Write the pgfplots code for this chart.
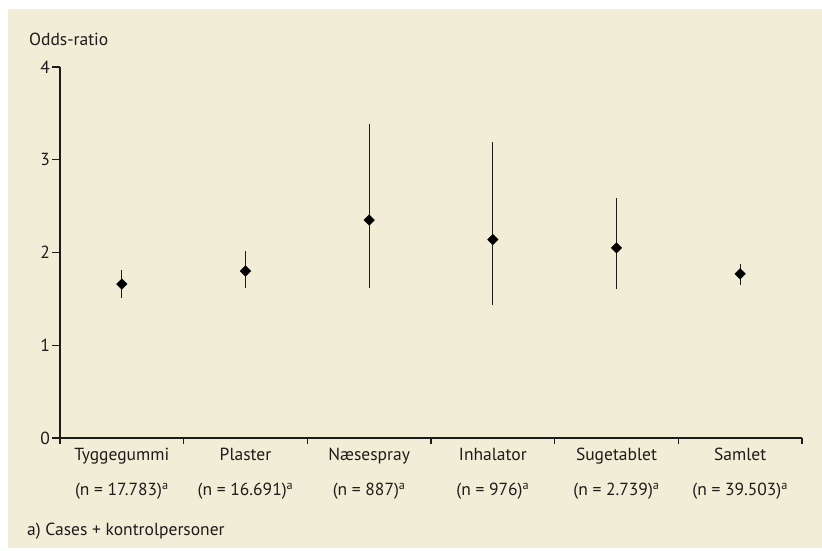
\documentclass[border=0pt]{standalone}
\usepackage{fontspec}
\setmainfont{PT Sans}
\usepackage{pgfplots}
\usepackage{pgfplotstable}
\pgfplotsset{compat=1.18}

\definecolor{cream}{RGB}{241,237,214}
\definecolor{ink}{RGB}{30,28,26}

% odds-ratio with upper/lower distance of the confidence interval
\pgfplotstableread{
x    y     ep    em
0.5  1.66  0.15  0.15
1.5  1.80  0.22  0.18
2.5  2.35  1.04  0.73
3.5  2.14  1.05  0.71
4.5  2.05  0.54  0.44
5.5  1.77  0.11  0.12
}\oddsdata

\begin{document}
\begin{tikzpicture}[x=1pt,y=1pt]
\fill[white] (0,0) rectangle (822,-550);
\fill[cream] (8,-9) rectangle (822,-548);

\begin{axis}[
    at={(60pt,-438pt)}, anchor=south west,
    scale only axis, width=742pt, height=371pt,
    xmin=0, xmax=6, ymin=0, ymax=4,
    axis lines*=left,
    axis line style={ink, line width=1.3pt},
    font=\fontsize{17.5}{21}\selectfont,
    every tick label/.append style={text=ink},
    /pgf/number format/assume math mode=true,
    tick align=outside,
    major tick length=8pt,
    every tick/.style={ink, line width=1.3pt},
    ytick={0,1,2,3,4},
    yticklabel style={inner sep=2pt},
    xtick={0.5,1.5,...,5.5},
    xtick style={draw=none},
    xticklabels={
        {Tyggegummi\\[14pt](n = 17.783)\textsuperscript{a}},
        {Plaster\\[14pt](n = 16.691)\textsuperscript{a}},
        {Næsespray\\[14pt](n = 887)\textsuperscript{a}},
        {Inhalator\\[14pt](n = 976)\textsuperscript{a}},
        {Sugetablet\\[14pt](n = 2.739)\textsuperscript{a}},
        {Samlet\\[14pt](n = 39.503)\textsuperscript{a}}},
    xticklabel style={align=center, anchor=north, inner sep=2pt},
    extra x ticks={0,1,...,6},
    extra x tick labels={},
    extra x tick style={major tick length=6pt, xtick style={draw=ink}},
    clip=false,
]
\addplot[ink, line width=1.3pt, only marks,
    mark=square*, mark size=3.7pt, mark options={rotate=45, fill=black, draw=black, line width=0.5pt},
    error bars/.cd, y dir=both, y explicit,
    error mark=none,
    error bar style={ink, line width=1.3pt}]
    table[x=x, y=y, y error plus=ep, y error minus=em] {\oddsdata};
\end{axis}

\node[anchor=base west, text=ink, font=\fontsize{17.5}{21}\selectfont, inner sep=0pt] at (29,-45) {Odds-ratio};
\node[anchor=base west, text=ink, font=\fontsize{17.5}{21}\selectfont, inner sep=0pt] at (27,-535) {a) Cases + kontrolpersoner};
\end{tikzpicture}
\end{document}
